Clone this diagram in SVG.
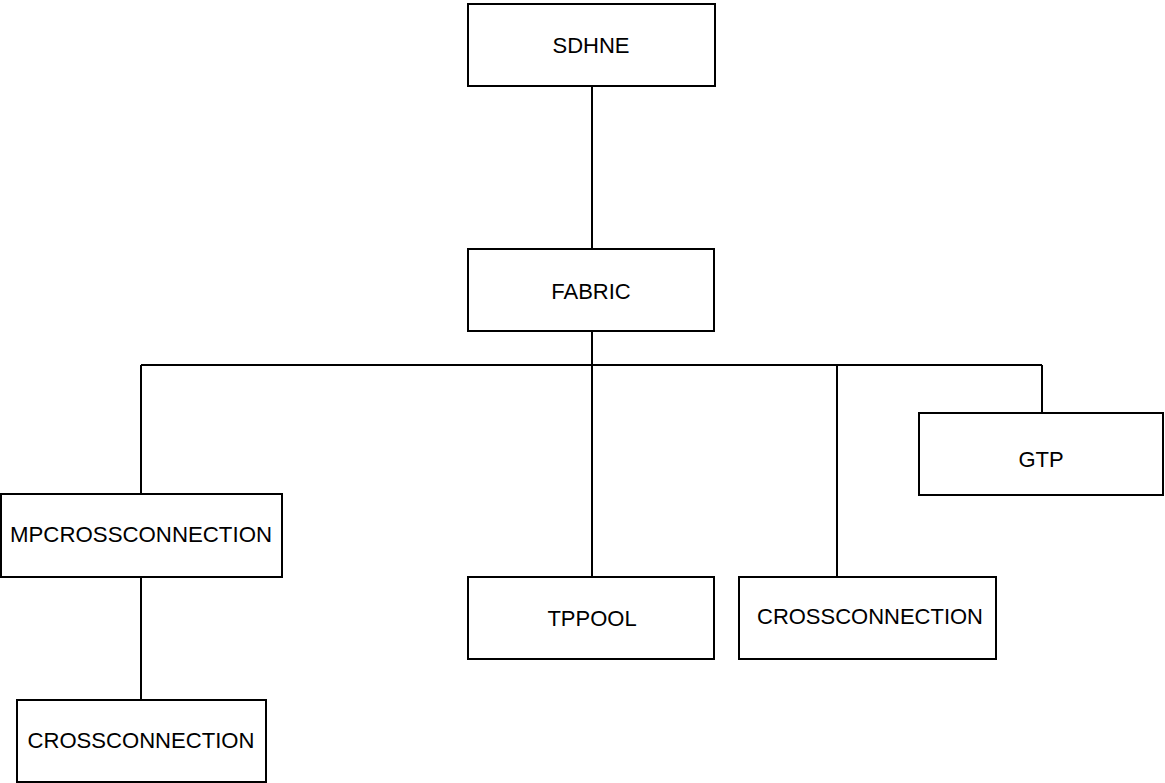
<svg xmlns="http://www.w3.org/2000/svg" width="1165" height="783" viewBox="0 0 1165 783">
  <style>
    .box { fill: #ffffff; stroke: #000000; stroke-width: 2; }
    .link { fill: none; stroke: #000000; stroke-width: 2; }
    .label { font-family: "Liberation Sans", Arial, sans-serif; font-size: 22px; fill: #000000; text-anchor: middle; dominant-baseline: central; }
  </style>
  <rect width="1165" height="783" fill="#ffffff"/>

  <!-- tree connectors -->
  <g id="connectors">
    <line class="link" x1="592" y1="86" x2="592" y2="249"/>
    <line class="link" x1="592" y1="331" x2="592" y2="365"/>
    <line class="link" x1="141" y1="365" x2="1042" y2="365"/>
    <line class="link" x1="141" y1="365" x2="141" y2="494"/>
    <line class="link" x1="592" y1="365" x2="592" y2="577"/>
    <line class="link" x1="837" y1="365" x2="837" y2="577"/>
    <line class="link" x1="1042" y1="365" x2="1042" y2="413"/>
    <line class="link" x1="141" y1="577" x2="141" y2="700"/>
  </g>

  <g id="sdhne">
    <rect class="box" x="468" y="4" width="247" height="82"/>
    <text class="label" x="591" y="45">SDHNE</text>
  </g>

  <g id="fabric">
    <rect class="box" x="468" y="249" width="246" height="82"/>
    <text class="label" x="591" y="291">FABRIC</text>
  </g>

  <g id="mpcrossconnection">
    <rect class="box" x="1" y="494" width="281" height="83"/>
    <text class="label" x="141" y="534" textLength="262" lengthAdjust="spacingAndGlyphs">MPCROSSCONNECTION</text>
  </g>

  <g id="tppool">
    <rect class="box" x="468" y="577" width="246" height="82"/>
    <text class="label" x="592" y="618">TPPOOL</text>
  </g>

  <g id="crossconnection-fabric">
    <rect class="box" x="739" y="577" width="257" height="82"/>
    <text class="label" x="870" y="616" textLength="226" lengthAdjust="spacingAndGlyphs">CROSSCONNECTION</text>
  </g>

  <g id="gtp">
    <rect class="box" x="919" y="413" width="244" height="82"/>
    <text class="label" x="1041" y="459">GTP</text>
  </g>

  <g id="crossconnection-mp">
    <rect class="box" x="17" y="700" width="249" height="82"/>
    <text class="label" x="141" y="740" textLength="227" lengthAdjust="spacingAndGlyphs">CROSSCONNECTION</text>
  </g>
</svg>
